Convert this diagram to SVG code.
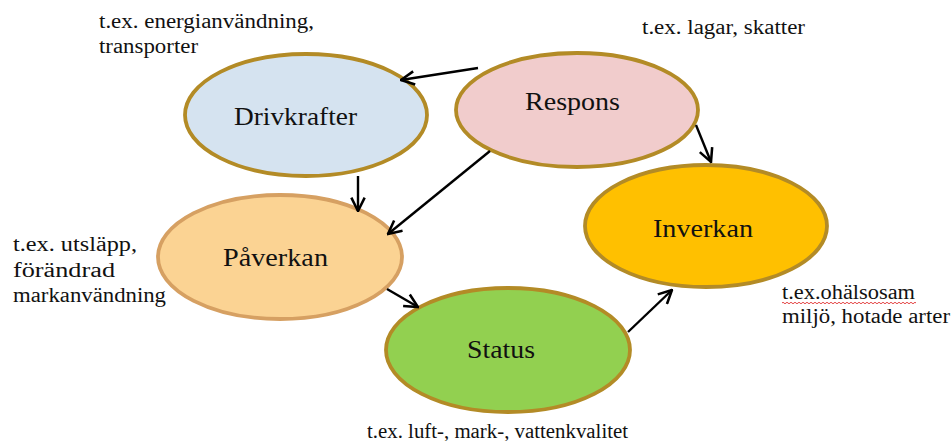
<svg xmlns="http://www.w3.org/2000/svg" width="952" height="441" viewBox="0 0 952 441">
  <defs>
    <marker id="arr" markerUnits="userSpaceOnUse" markerWidth="16" markerHeight="16" viewBox="0 0 12 12" refX="11" refY="6" orient="auto">
      <path d="M1,1 L11,6 L1,11" fill="none" stroke="#000" stroke-width="1.9" stroke-linejoin="miter"/>
    </marker>
  </defs>
  <style>
    .node { stroke: #B38B26; stroke-width: 3.8; }
    .lbl { font-family: "Liberation Serif", "Times New Roman", serif; font-size: 25px; fill: #111; }
    .note { font-family: "Liberation Serif", "Times New Roman", serif; font-size: 20px; fill: #111; }
    .conn line { stroke: #000; stroke-width: 2.4; marker-end: url(#arr); }
  </style>
  <rect width="952" height="441" fill="#fff"/>

  <g id="drivkrafter">
    <ellipse class="node" cx="306" cy="115" rx="121" ry="61" fill="#D5E3F0"/>
    <text class="lbl" x="234" y="125" textLength="123" lengthAdjust="spacingAndGlyphs">Drivkrafter</text>
  </g>
  <g id="respons">
    <ellipse class="node" cx="577" cy="110" rx="121" ry="57" fill="#F1CCCC"/>
    <text class="lbl" x="525" y="110" textLength="95" lengthAdjust="spacingAndGlyphs">Respons</text>
  </g>
  <g id="paverkan">
    <ellipse class="node" cx="280" cy="257" rx="122" ry="62" fill="#FBD393" style="stroke:#D6A062"/>
    <text class="lbl" x="223" y="266" textLength="105" lengthAdjust="spacingAndGlyphs">Påverkan</text>
  </g>
  <g id="status">
    <ellipse class="node" cx="508" cy="350" rx="122" ry="62" fill="#92D050"/>
    <text class="lbl" x="467" y="358" textLength="68" lengthAdjust="spacingAndGlyphs">Status</text>
  </g>
  <g id="inverkan">
    <ellipse class="node" cx="706" cy="226" rx="121" ry="61" fill="#FFC000"/>
    <text class="lbl" x="653" y="237" textLength="100" lengthAdjust="spacingAndGlyphs">Inverkan</text>
  </g>

  <g id="connectors" class="conn">
    <line x1="478" y1="68" x2="401" y2="80"/>
    <line x1="358" y1="176" x2="358" y2="211"/>
    <line x1="490" y1="151" x2="388" y2="234"/>
    <line x1="696" y1="125" x2="711" y2="162"/>
    <line x1="387" y1="289" x2="418" y2="307"/>
    <line x1="628" y1="332" x2="672" y2="290"/>
  </g>

  <g id="notes">
    <text class="note" x="99" y="28" textLength="215" lengthAdjust="spacingAndGlyphs">t.ex. energianvändning,</text>
    <text class="note" x="99" y="53" textLength="99" lengthAdjust="spacingAndGlyphs">transporter</text>
    <text class="note" x="642" y="34" textLength="163" lengthAdjust="spacingAndGlyphs">t.ex. lagar, skatter</text>
    <text class="note" x="13" y="251" textLength="124" lengthAdjust="spacingAndGlyphs">t.ex. utsläpp,</text>
    <text class="note" x="13" y="277" textLength="102" lengthAdjust="spacingAndGlyphs">förändrad</text>
    <text class="note" x="13" y="302" textLength="153" lengthAdjust="spacingAndGlyphs">markanvändning</text>
    <text class="note" x="367" y="438" textLength="261" lengthAdjust="spacingAndGlyphs">t.ex. luft-, mark-, vattenkvalitet</text>
    <text class="note" x="782" y="299" textLength="133" lengthAdjust="spacingAndGlyphs">t.ex.ohälsosam</text>
    <path d="M782,303 q1,-1.5 2,0 t2,0 t2,0 t2,0 t2,0 t2,0 t2,0 t2,0 t2,0 t2,0 t2,0 t2,0 t2,0 t2,0 t2,0 t2,0 t2,0 t2,0 t2,0 t2,0 t2,0 t2,0 t2,0 t2,0 t2,0 t2,0 t2,0 t2,0 t2,0 t2,0 t2,0 t2,0 t2,0 t2,0 t2,0 t2,0 t2,0 t2,0 t2,0 t2,0 t2,0 t2,0 t2,0 t2,0 t2,0 t2,0 t2,0 t2,0 t2,0 t2,0 t2,0 t2,0 t2,0 t2,0 t2,0 t2,0 t2,0 t2,0 t2,0 t2,0 t2,0 t2,0 t2,0 t2,0 t2,0 t2,0 t2,0" fill="none" stroke="#E03030" stroke-width="0.9"/>
    <text class="note" x="782" y="323" textLength="168" lengthAdjust="spacingAndGlyphs">miljö, hotade arter</text>
  </g>
</svg>
